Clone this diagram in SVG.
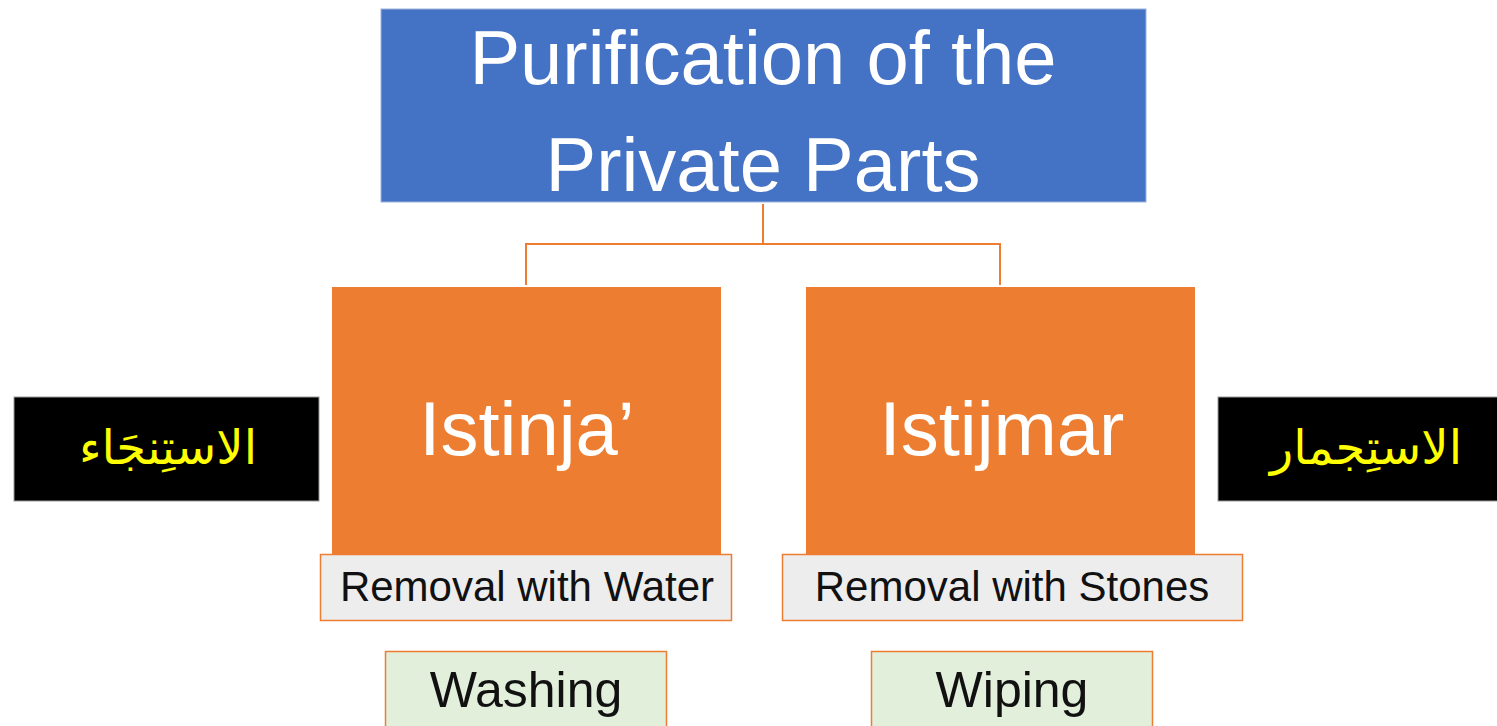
<svg xmlns="http://www.w3.org/2000/svg" width="1497" height="726" viewBox="0 0 1497 726">
<style>
.t{font-family:"Liberation Sans",Arial,sans-serif;text-anchor:middle}
.big{font-size:76px;fill:#fff}
.mid{font-size:42px;fill:#111}
.low{font-size:50px;fill:#111}
.ar{font-family:"DejaVu Sans","Noto Sans",sans-serif;font-size:48px;fill:#ffff00;text-anchor:middle}
.lane{fill:#ED7D31}
.sub{fill:#EDEDED;stroke:#ED7D31;stroke-width:1.5}
.grn{fill:#E2EFDA;stroke:#ED7D31;stroke-width:1.5}
.blk{fill:#000;stroke:#999;stroke-width:1}
</style>
<rect width="1497" height="726" fill="#fff"/>
<g id="connectors" fill="none" stroke="#ED7D31" stroke-width="2">
<path d="M763 204 V244 H526 V285 M763 244 H1000 V285"/>
</g>
<g id="root">
<rect x="381" y="9" width="765" height="193" fill="#4472C4" stroke="#9DB3DE" stroke-width="1"/>
<text class="t big" x="763" y="84">Purification of the</text>
<text class="t big" x="763" y="191">Private Parts</text>
</g>
<g id="istinja">
<rect class="lane" x="332" y="287" width="389" height="268"/>
<text class="t big" x="527" y="455">Istinja’</text>
</g>
<g id="istijmar">
<rect class="lane" x="806" y="287" width="389" height="268"/>
<text class="t big" x="1002" y="455">Istijmar</text>
</g>
<g id="water">
<rect class="sub" x="320.5" y="554.5" width="411" height="66"/>
<text class="t mid" x="527" y="601">Removal with Water</text>
</g>
<g id="stones">
<rect class="sub" x="782.5" y="554.5" width="460" height="66"/>
<text class="t mid" x="1012" y="601">Removal with Stones</text>
</g>
<g id="washing">
<rect class="grn" x="385.5" y="651.5" width="281" height="80"/>
<text class="t low" x="526" y="707">Washing</text>
</g>
<g id="wiping">
<rect class="grn" x="871.5" y="651.5" width="281" height="80"/>
<text class="t low" x="1012" y="707">Wiping</text>
</g>
<g id="ar-istinja">
<rect class="blk" x="14" y="397" width="305" height="104"/>
<text class="ar" x="168" y="464" direction="rtl">الاستِنجَاء</text>
</g>
<g id="ar-istijmar">
<rect class="blk" x="1218" y="397" width="280" height="104"/>
<text class="ar" x="1366" y="464" direction="rtl">الاستِجمار</text>
</g>
</svg>
